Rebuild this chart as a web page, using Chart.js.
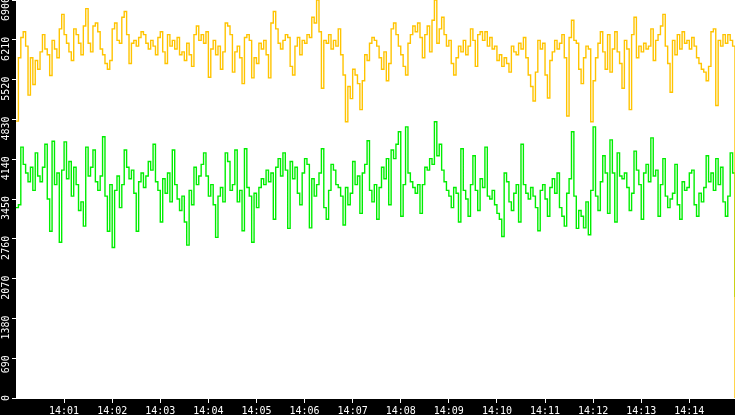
<!DOCTYPE html>
<html>
<head>
<meta charset="utf-8">
<script src="https://cdn.jsdelivr.net/npm/chart.js@4.4.1/dist/chart.umd.min.js"></script>
<style>
  html, body { margin: 0; padding: 0; background: #000; }
  #wrap { width: 735px; height: 415px; }
</style>
</head>
<body>
<div id="wrap"><canvas id="trend" width="735" height="415"></canvas></div>
<script>
// one sample every 3 seconds, starting at 14:00:00
const STEP_SEC = 3;

const yellowValues = [
  4800, 5900, 6250, 6350, 6100, 5250, 5900, 5435, 5850, 5700, 6000, 6300, 6050, 5950, 5590, 6200, 6050, 5900, 6400, 6650,
  6300, 6150, 6000, 5850, 6400, 6300, 6150, 5950, 6450, 6750, 6150, 6000, 6450, 6500, 6350, 6050, 5950, 5800, 5700, 5850,
  6400, 6500, 6200, 6150, 6600, 6700, 6300, 5800, 6150, 6200, 6100, 6250, 6350, 6300, 6150, 6050, 6200, 6100, 5950, 6250,
  6350, 6000, 5800, 6300, 6100, 6200, 6050, 6250, 5950, 6000, 5850, 6150, 5950, 5750, 6300, 6450, 6200, 6300, 6150, 6350,
  5560, 6050, 6200, 5950, 6100, 5700, 6000, 6500, 6450, 6300, 5650, 6000, 6100, 5900, 5450, 6250, 6300, 6200, 5550, 5900,
  5800, 6150, 6050, 6200, 5950, 5550, 6500, 6700, 6400, 6150, 6050, 6200, 6300, 6250, 5750, 5600, 6100, 6250, 5950, 6200,
  6150, 6300, 6250, 6600, 6500, 6900, 6350, 5370, 6200, 6150, 6300, 6050, 6200, 6100, 6400, 5950, 5600, 4790, 5400, 5190,
  5700, 5600, 5450, 5000, 5500, 5950, 5850, 6150, 6250, 6200, 6100, 5900, 5700, 6000, 5500, 5800, 6400, 6500, 6300, 6100,
  5950, 5750, 5600, 6150, 6300, 6450, 6350, 6500, 6250, 5900, 6300, 6450, 6000, 6550, 6900, 6150, 6400, 6600, 6300, 6100,
  6200, 5800, 5600, 5900, 6100, 6000, 6200, 5950, 6100, 6400, 6200, 5750, 6300, 6350, 6200, 6350, 6100, 6250, 6050, 6100,
  5850, 5950, 5750, 5900, 5800, 5650, 6100, 6000, 5950, 6150, 6050, 6250, 5900, 5600, 5400, 5150, 5650, 6200, 6050, 6150,
  5600, 5200, 5850, 6000, 6200, 6050, 6150, 6300, 5900, 4890, 6250, 6550, 6200, 6150, 5700, 5450, 5900, 6100, 6050, 4790,
  5500, 5900, 6150, 6350, 6000, 5700, 6300, 5650, 6050, 6350, 6000, 5800, 5370, 6200, 6050, 5000, 6300, 6600, 5900, 6100,
  6000, 6150, 6050, 6100, 6400, 5850, 6200, 6300, 6450, 6650, 6100, 5800, 5300, 6200, 5950, 6300, 6050, 6350, 6150, 6200,
  6050, 6250, 6100, 5900, 5800, 5700, 5650, 5500, 5750, 6350, 6400, 5070, 6200, 6100, 6300, 6150, 6300, 6200, 6100, 0
];

const greenValues = [
  3300, 3350, 4350, 4050, 3900, 3750, 4000, 3600, 4250, 3850, 3750, 4000, 4400, 3450, 2890, 4450, 3700, 3900, 2700, 3950,
  4440, 3800, 4100, 3500, 4000, 3700, 3250, 3400, 2980, 4350, 3850, 4000, 4300, 3750, 3600, 3850, 4530, 3500, 2890, 3700,
  2610, 3600, 3850, 3300, 3700, 4300, 4000, 3800, 3950, 3550, 2890, 3750, 3900, 3650, 3850, 4100, 3950, 4400, 3750, 3600,
  3050, 3800, 3550, 3900, 3400, 4300, 3700, 3450, 3250, 3500, 3050, 2650, 3600, 3350, 4000, 3700, 3850, 4050, 4250, 3850,
  3500, 3700, 3350, 2785, 3500, 3650, 3400, 4250, 4100, 3600, 3700, 4300, 3400, 3600, 2900, 4320, 3650, 3500, 2700, 3550,
  3300, 3650, 3800, 3700, 3950, 3750, 3900, 3100, 4000, 4150, 3850, 4250, 3950, 2940, 4100, 3800, 4000, 3550, 3350, 3900,
  4150, 4050, 2950, 3800, 3500, 3700, 3900, 4320, 3300, 3100, 3600, 4050, 3950, 3700, 3650, 3500, 3000, 3650, 3350, 3550,
  4100, 3700, 3850, 3200, 3900, 4050, 4460, 3600, 3400, 3700, 3100, 3650, 4000, 3800, 4150, 3350, 4300, 4150, 4400, 4615,
  3150, 3700, 4700, 3900, 3750, 3650, 3550, 3700, 3200, 3700, 4000, 3950, 4150, 4050, 4790, 4200, 4400, 3950, 3750, 3600,
  3500, 3300, 3650, 3550, 3050, 4320, 3600, 3450, 3150, 3700, 4200, 3600, 3250, 3800, 3650, 4350, 3500, 3450, 3600, 3350,
  3200, 3100, 2800, 3900, 3750, 3400, 3250, 3550, 3700, 3050, 4400, 3700, 3550, 3450, 3650, 3500, 3300, 2900, 3600, 3700,
  3450, 3150, 3650, 3800, 3550, 3900, 3300, 3150, 2980, 3550, 3800, 4615, 3500, 2940, 3250, 3150, 2950, 3400, 2830, 3600,
  4700, 3500, 3250, 3750, 4200, 3900, 3200, 4475, 3900, 3050, 4250, 3850, 3800, 3900, 3650, 3250, 3550, 4280, 3950, 3700,
  3100, 3900, 4050, 3750, 4510, 3850, 3950, 3150, 3700, 4150, 3500, 3300, 3450, 3550, 4050, 3350, 3100, 3750, 3600, 3650,
  3900, 3950, 3350, 3150, 3550, 3400, 3650, 4200, 3750, 3900, 3600, 4150, 3700, 4000, 3400, 3150, 3500, 4250, 3900, 1750
];

// seconds after 14:00:00 and their labels
const minuteTicks = [60, 120, 180, 240, 300, 360, 420, 480, 540, 600, 660, 720, 780, 840];
const minuteLabels = ['14:01', '14:02', '14:03', '14:04', '14:05', '14:06', '14:07',
                      '14:08', '14:09', '14:10', '14:11', '14:12', '14:13', '14:14'];
const valueTicks = [0, 690, 1380, 2070, 2760, 3450, 4140, 4830, 5520, 6210, 6900];

const toPoints = (values) => values.map((v, i) => ({x: i * STEP_SEC, y: v}));

// black canvas, white plot area
const plotBackground = {
    id: 'plotBackground',
    beforeDraw(chart) {
        const {ctx, chartArea: a} = chart;
        ctx.save();
        ctx.fillStyle = '#000';
        ctx.fillRect(0, 0, chart.width, chart.height);
        ctx.fillStyle = '#fff';
        ctx.fillRect(a.left, a.top, a.right - a.left, a.bottom - a.top);
        ctx.restore();
    }
};

const tickFont = {family: 'DejaVu Sans Mono', size: 10};

new Chart(document.getElementById('trend').getContext('2d'), {
    type: 'line',
    data: {
        datasets: [
            {
                label: 'yellow',
                data: toPoints(yellowValues),
                borderColor: '#ffc400',
                borderWidth: 1.4,
                stepped: true,
                pointRadius: 0,
                fill: false
            },
            {
                label: 'green',
                data: toPoints(greenValues),
                borderColor: '#00ee00',
                borderWidth: 1.4,
                stepped: true,
                pointRadius: 0,
                fill: false
            }
        ]
    },
    options: {
        responsive: false,
        animation: false,
        layout: {padding: 0},
        plugins: {
            legend: {display: false},
            tooltip: {enabled: false}
        },
        scales: {
            x: {
                type: 'linear',
                min: 0,
                max: (yellowValues.length - 1) * STEP_SEC,
                afterBuildTicks: (scale) => {
                    scale.ticks = minuteTicks.map(v => ({value: v}));
                },
                afterFit: (scale) => {
                    scale.height = 17;
                    scale.paddingLeft = 0;
                    scale.paddingRight = 0;
                },
                grid: {
                    drawOnChartArea: false,
                    color: '#fff',
                    tickLength: 5
                },
                border: {color: '#fff', width: 1},
                ticks: {
                    color: '#fff',
                    font: tickFont,
                    padding: 2,
                    maxRotation: 0,
                    callback: (v) => minuteLabels[minuteTicks.indexOf(v)]
                }
            },
            y: {
                min: 0,
                max: 6900,
                afterBuildTicks: (scale) => {
                    scale.ticks = valueTicks.map(v => ({value: v}));
                },
                afterFit: (scale) => {
                    scale.width = 16;
                    scale.paddingTop = 0;
                    scale.paddingBottom = 0;
                },
                grid: {
                    drawOnChartArea: false,
                    color: '#fff',
                    tickLength: 4
                },
                border: {color: '#fff', width: 1},
                ticks: {
                    color: '#fff',
                    font: tickFont,
                    padding: 6,
                    minRotation: 90,
                    maxRotation: 90,
                    labelOffset: -3,
                    callback: (v) => String(v)
                }
            }
        }
    },
    plugins: [plotBackground]
});
</script>
</body>
</html>
